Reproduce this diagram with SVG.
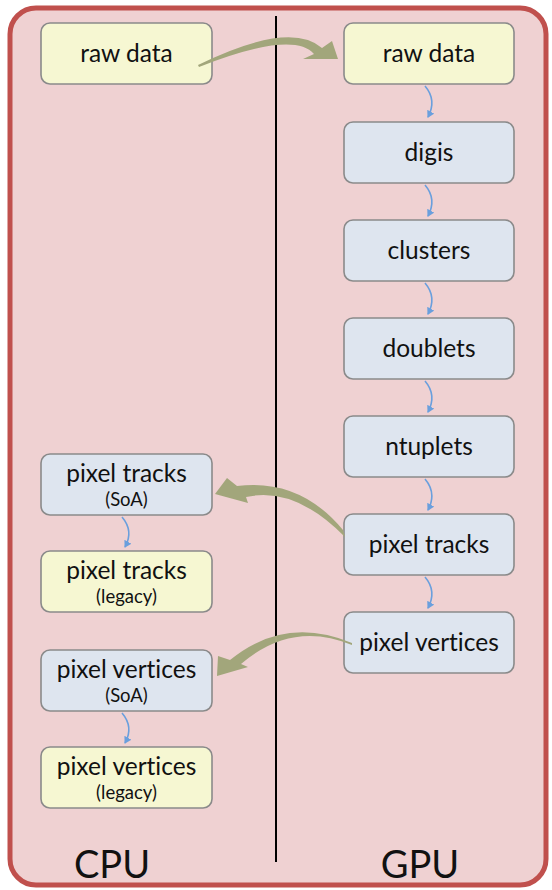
<svg xmlns="http://www.w3.org/2000/svg" width="552" height="890" viewBox="0 0 552 890">
<style>
.y{fill:#F6F7D2;stroke:#8A8A8A;stroke-width:1.6}
.b{fill:#DEE5EF;stroke:#8A8A8A;stroke-width:1.6}
.t{font-family:Lato,"Open Sans",sans-serif;font-size:24.5px;fill:#111;text-anchor:middle;font-variant-ligatures:none}
.s{font-family:Lato,"Open Sans",sans-serif;font-size:18.5px;fill:#111;text-anchor:middle;font-variant-ligatures:none}
.big{font-family:Lato,"Open Sans",sans-serif;font-size:38px;fill:#111;text-anchor:middle}
.sm{fill:none;stroke:#6A9FDD;stroke-width:1.6}
.ar{fill:#A2A67B}
</style>
<defs>
<marker id="h" markerWidth="8" markerHeight="8" refX="6" refY="4" orient="auto" markerUnits="userSpaceOnUse">
<path d="M0,0 L7,4 L0,8 Z" fill="#6A9FDD"/>
</marker>
</defs>
<rect x="10" y="8" width="536" height="877" rx="26" fill="#EFD1D2" stroke="#C0504D" stroke-width="5"/>
<line x1="276" y1="16" x2="276" y2="862" stroke="#000" stroke-width="2"/>
<text class="big" x="112" y="878">CPU</text>
<text class="big" x="420" y="878">GPU</text>

<g id="cpu-raw"><rect class="y" x="41" y="23" width="171" height="61" rx="9"/><text class="t" x="126.5" y="62">raw data</text></g>
<g id="gpu-raw"><rect class="y" x="344" y="23" width="170" height="61" rx="9"/><text class="t" x="429" y="62">raw data</text></g>
<g id="digis"><rect class="b" x="344" y="122" width="170" height="61" rx="9"/><text class="t" x="429" y="161">digis</text></g>
<g id="clusters"><rect class="b" x="344" y="220" width="170" height="61" rx="9"/><text class="t" x="429" y="259">clusters</text></g>
<g id="doublets"><rect class="b" x="344" y="318" width="170" height="61" rx="9"/><text class="t" x="429" y="357">doublets</text></g>
<g id="ntuplets"><rect class="b" x="344" y="416" width="170" height="61" rx="9"/><text class="t" x="429" y="455">ntuplets</text></g>
<g id="gpu-tracks"><rect class="b" x="344" y="514" width="170" height="61" rx="9"/><text class="t" x="429" y="553">pixel tracks</text></g>
<g id="gpu-vertices"><rect class="b" x="344" y="612" width="170" height="61" rx="9"/><text class="t" x="429" y="651">pixel vertices</text></g>

<g id="cpu-tracks-soa"><rect class="b" x="41" y="454" width="171" height="61" rx="9"/><text class="t" x="126.5" y="482">pixel tracks</text><text class="s" x="126.5" y="506">(SoA)</text></g>
<g id="cpu-tracks-legacy"><rect class="y" x="41" y="551" width="171" height="61" rx="9"/><text class="t" x="126.5" y="579">pixel tracks</text><text class="s" x="126.5" y="603">(legacy)</text></g>
<g id="cpu-vertices-soa"><rect class="b" x="41" y="650" width="171" height="61" rx="9"/><text class="t" x="126.5" y="678">pixel vertices</text><text class="s" x="126.5" y="702">(SoA)</text></g>
<g id="cpu-vertices-legacy"><rect class="y" x="41" y="747" width="171" height="61" rx="9"/><text class="t" x="126.5" y="775">pixel vertices</text><text class="s" x="126.5" y="799">(legacy)</text></g>

<g id="connectors">
<path class="ar" d="M198,65 Q290,20 322,48 L332,41 L338,59 L303,59 L314,54 Q293,30 199,67 Z"/>
<path class="ar" d="M345,537 Q295,486 246,497 L248,503 L215,494 L227,478 L237,486 Q300,478 343,530 Z"/>
<path class="ar" d="M352,643 Q285,615 230,660 L218,656 L217,676 L248,667 L241,664 Q292,620 352,645 Z"/>
<path class="sm" d="M425,86 Q437,100 428,117" marker-end="url(#h)"/>
<path class="sm" d="M425,185 Q437,199 428,216" marker-end="url(#h)"/>
<path class="sm" d="M425,283 Q437,297 428,314" marker-end="url(#h)"/>
<path class="sm" d="M425,381 Q437,395 428,412" marker-end="url(#h)"/>
<path class="sm" d="M425,479 Q437,493 428,510" marker-end="url(#h)"/>
<path class="sm" d="M425,577 Q437,591 428,608" marker-end="url(#h)"/>
<path class="sm" d="M122,517 Q134,531 125,547" marker-end="url(#h)"/>
<path class="sm" d="M122,713 Q134,727 125,743" marker-end="url(#h)"/>
</g>
</svg>
